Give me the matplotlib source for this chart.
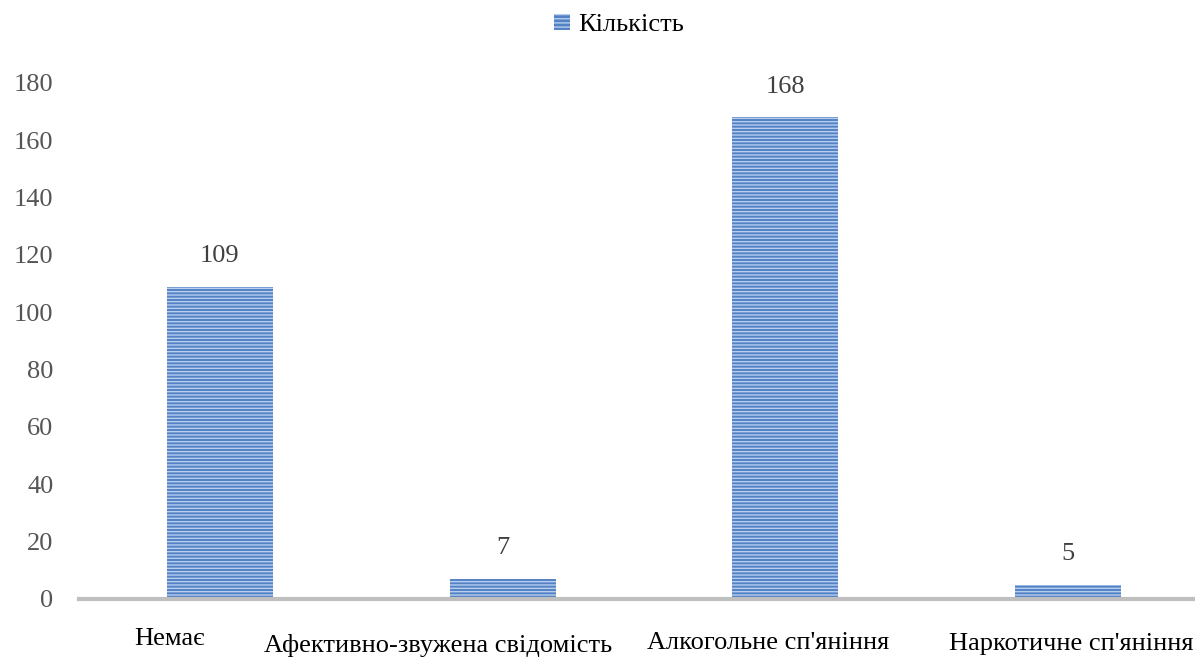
import matplotlib
matplotlib.use("Agg")
import matplotlib.pyplot as plt
from matplotlib.patches import Patch

# Data
categories = ["Немає", "Афективно-звужена свідомість", "Алкогольне сп'яніння", "Наркотичне сп'яніння"]
counts = [109, 7, 168, 5]
series_name = "Кількість"
y_ticks = [0, 20, 40, 60, 80, 100, 120, 140, 160, 180]

# Per-label placement tweaks for the category captions (x shift in category units, y in points)
label_dx = [-0.18, -0.23, -0.06, 0.01]
label_dy = [-33, -38, -36, -37]

bar_face = "#5582C4"
stripe = "#B5CDEE"
plt.rcParams["hatch.linewidth"] = 1.0

fig = plt.figure(figsize=(11.95, 6.57), dpi=100)
ax = fig.add_axes([0.0657, 0.0883, 0.9465, 0.7854])

x = list(range(len(categories)))
bars = ax.bar(x, counts, width=0.375, color=bar_face, edgecolor=stripe,
              hatch="-----", linewidth=0)

ax.set_xlim(-0.5, len(categories) - 0.5)
ax.set_ylim(0, 180)
ax.set_yticks(y_ticks)
ax.set_yticklabels([str(v) for v in y_ticks], family="Liberation Serif",
                   fontsize=19, color="#555555")
ax.tick_params(axis="y", length=0, pad=18)
ax.set_xticks([])

for side in ("top", "right", "left"):
    ax.spines[side].set_visible(False)
ax.spines["bottom"].set_color("#BFBFBF")
ax.spines["bottom"].set_linewidth(3)

# Value labels above bars
for xi, v in zip(x, counts):
    ax.annotate(str(v), (xi, v), xytext=(0, 14), textcoords="offset points",
                ha="center", va="bottom", family="Liberation Serif",
                fontsize=19, color="#404040")

# Category captions
for xi, name, dx, dy in zip(x, categories, label_dx, label_dy):
    ax.annotate(name, (xi + dx, 0), xytext=(0, dy), textcoords="offset points",
                ha="center", va="baseline", family="Liberation Serif",
                fontsize=19, color="#000000", annotation_clip=False)

# Legend
handle = Patch(facecolor=bar_face, edgecolor=stripe, hatch="----", linewidth=0)
fig.legend([handle], [series_name], loc="center", bbox_to_anchor=(0.518, 0.962),
           frameon=False, prop={"family": "Liberation Serif", "size": 19},
           handlelength=0.6, handleheight=0.6, handletextpad=0.3)

fig.savefig("out.png", dpi=100)
